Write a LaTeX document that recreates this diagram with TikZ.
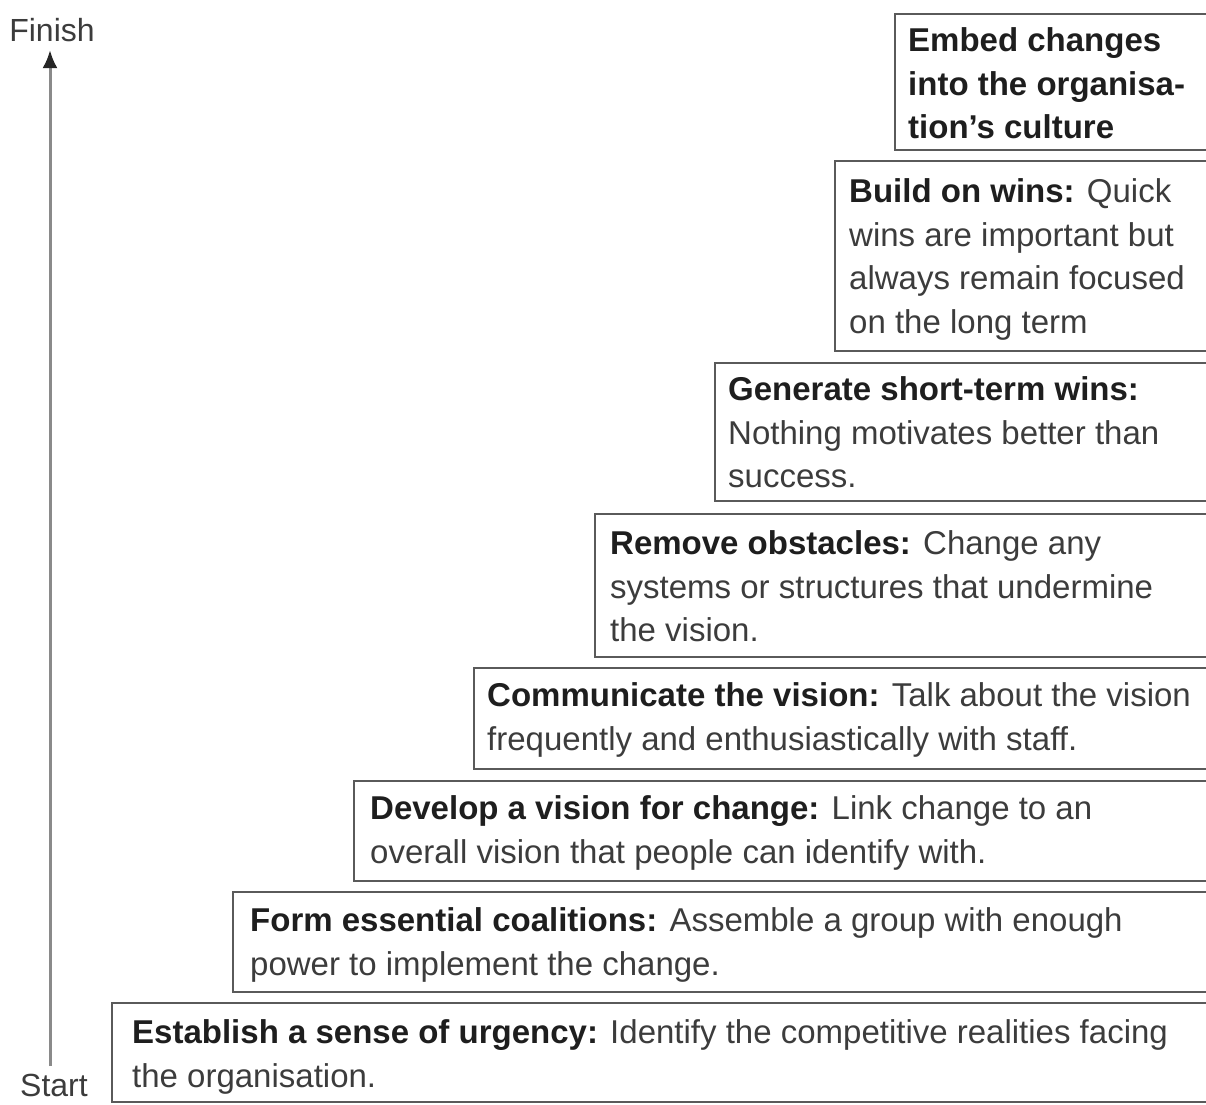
\documentclass[tikz,border=0pt]{standalone}
\usepackage{fontspec}
\setmainfont{Liberation Sans}
\usetikzlibrary{arrows.meta}
\definecolor{boxline}{HTML}{5A5A5A}
\definecolor{boldtxt}{HTML}{1E1E1E}
\definecolor{regtxt}{HTML}{3C3C3C}
\definecolor{shaft}{HTML}{8A8A8A}
\newcommand{\hd}[1]{{\bfseries\color{boldtxt}#1}}
\tikzset{
  stepbox/.style={draw=boxline, line width=2pt},
  steptext/.style={anchor=north west, inner sep=0pt, align=left, text=regtxt,
    font=\fontsize{33}{43.5}\selectfont},
  endlabel/.style={inner sep=0pt, text=regtxt, font=\fontsize{32}{38}\selectfont},
}
\begin{document}
\begin{tikzpicture}[x=1pt,y=-1pt]
\useasboundingbox (0,0) rectangle (1206,1104);
\clip (0,0) rectangle (1206,1104);
% boxes
\draw[stepbox] (895,14) rectangle (1230,150);
\draw[stepbox] (835,161) rectangle (1230,351);
\draw[stepbox] (715,363) rectangle (1230,501);
\draw[stepbox] (595,514) rectangle (1230,657);
\draw[stepbox] (474,668) rectangle (1230,769);
\draw[stepbox] (354,781) rectangle (1230,881);
\draw[stepbox] (233,892) rectangle (1230,992);
\draw[stepbox] (112,1003) rectangle (1230,1102);
% texts
\node[steptext] (s8) at (908,21) {\strut\hd{Embed changes}\\\hd{into the organisa-}\\\hd{tion’s culture}};
\node[steptext] (s7) at (849,172) {\strut\hd{Build on wins:} Quick\\wins are important but\\always remain focused\\on the long term};
\node[steptext] (s6) at (728,370) {\strut\hd{Generate short-term wins:}\\Nothing motivates better than\\success.};
\node[steptext] (s5) at (610,524) {\strut\hd{Remove obstacles:} Change any\\systems or structures that undermine\\the vision.};
\node[steptext] (s4) at (487,676) {\strut\hd{Communicate the vision:} Talk about the vision\\frequently and enthusiastically with staff.};
\node[steptext] (s3) at (370,789) {\strut\hd{Develop a vision for change:} Link change to an\\overall vision that people can identify with.};
\node[steptext] (s2) at (250,901) {\strut\hd{Form essential coalitions:} Assemble a group with enough\\power to implement the change.};
\node[steptext] (s1) at (132,1013) {\strut\hd{Establish a sense of urgency:} Identify the competitive realities facing\\the organisation.};
% axis
\node[endlabel, anchor=base] (finish) at (52,41) {Finish};
\node[endlabel, anchor=base] (start) at (54,1096) {Start};
\coordinate (foot) at (50,1066);
\coordinate (tip) at (50,50);
\draw[shaft, line width=3pt, -{Latex[length=18pt,width=15pt,color=black!85]}] (foot) -- (tip);
\end{tikzpicture}
\end{document}
